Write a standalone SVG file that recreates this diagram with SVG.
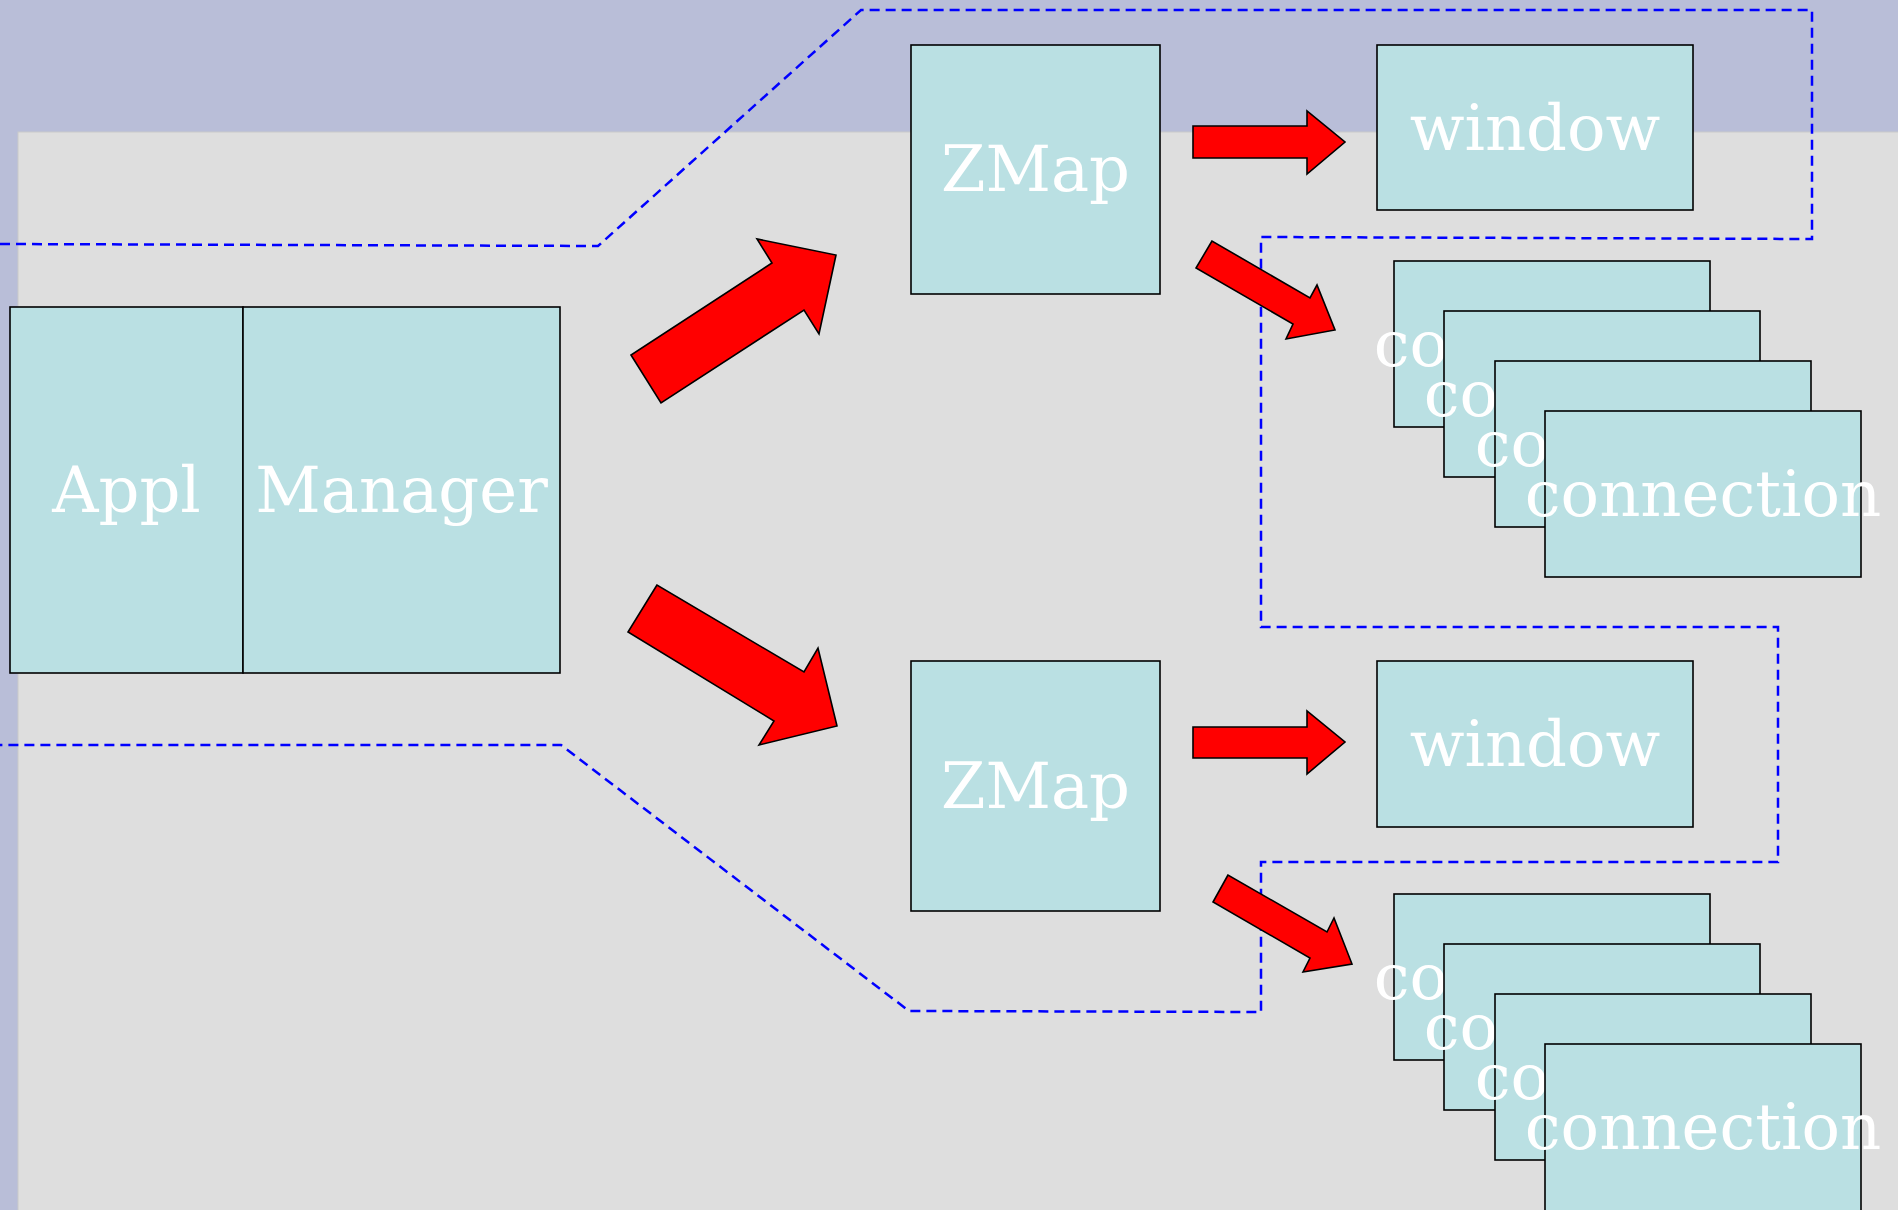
<svg xmlns="http://www.w3.org/2000/svg" width="1898" height="1210" viewBox="0 0 1898 1210">
<style>
.node{fill:#bae0e3;stroke:#000;stroke-width:1.6}
.lbl{font-family:"DejaVu Serif","Liberation Serif",serif;font-size:64px;fill:#fff;text-anchor:middle}
.arrow{fill:#ff0000;stroke:#000;stroke-width:1.6;stroke-linejoin:miter}
.bound{fill:none;stroke:#0000ff;stroke-width:2.5;stroke-dasharray:10 6}
</style>
<rect x="0" y="0" width="1898" height="1210" fill="#b9bed8"/>
<rect x="18" y="132" width="1890" height="1090" fill="#dedede" stroke="#c9c9c9" stroke-width="1"/>

<g id="boundary">
<polyline class="bound" points="0,244 598,246 861,10 1812,10 1812,239 1261,237 1261,627 1778,627 1778,862 1261,862 1261,1012 909,1011 561,745 0,745"/>
</g>

<g id="appl">
<rect class="node" x="10" y="307" width="233" height="366"/>
<text class="lbl" x="126.5" y="512">Appl</text>
</g>
<g id="manager">
<rect class="node" x="243" y="307" width="317" height="366"/>
<text class="lbl" x="401.5" y="512">Manager</text>
</g>

<g id="zmap1">
<rect class="node" x="911" y="45" width="249" height="249"/>
<text class="lbl" x="1035.5" y="191">ZMap</text>
</g>
<g id="zmap2">
<rect class="node" x="911" y="661" width="249" height="250"/>
<text class="lbl" x="1035.5" y="808">ZMap</text>
</g>

<g id="window1">
<rect class="node" x="1377" y="45" width="316" height="165"/>
<text class="lbl" x="1535" y="149.5">window</text>
</g>
<g id="window2">
<rect class="node" x="1377" y="661" width="316" height="166"/>
<text class="lbl" x="1535" y="766">window</text>
</g>

<g id="connections1">
<rect class="node" x="1394" y="261" width="316" height="166"/>
<text class="lbl" x="1552" y="366">connection</text>
<rect class="node" x="1444" y="311" width="316" height="166"/>
<text class="lbl" x="1602" y="416">connection</text>
<rect class="node" x="1495" y="361" width="316" height="166"/>
<text class="lbl" x="1653" y="466">connection</text>
<rect class="node" x="1545" y="411" width="316" height="166"/>
<text class="lbl" x="1703" y="516">connection</text>
</g>
<g id="connections2">
<rect class="node" x="1394" y="894" width="316" height="166"/>
<text class="lbl" x="1552" y="999">connection</text>
<rect class="node" x="1444" y="944" width="316" height="166"/>
<text class="lbl" x="1602" y="1049">connection</text>
<rect class="node" x="1495" y="994" width="316" height="166"/>
<text class="lbl" x="1653" y="1099">connection</text>
<rect class="node" x="1545" y="1044" width="316" height="170"/>
<text class="lbl" x="1703" y="1149">connection</text>
</g>

<g id="connectors">
<polygon class="arrow" points="631,355 661,403 804,310 819,334 836,255 757,239 772,263"/>
<polygon class="arrow" points="657,585 628,632 774,721 759,745 837,726 818,648 804,672"/>
<polygon class="arrow" points="1193,126 1307,126 1307,111 1345,142 1307,174 1307,158 1193,158"/>
<polygon class="arrow" points="1212,241 1196,268 1293,324 1286,339 1335,330 1317,285 1310,298"/>
<polygon class="arrow" points="1193,727 1307,727 1307,711 1345,742 1307,774 1307,758 1193,758"/>
<polygon class="arrow" points="1228,875 1213,902 1310,958 1303,972 1352,964 1334,918 1327,932"/>
</g>
</svg>
